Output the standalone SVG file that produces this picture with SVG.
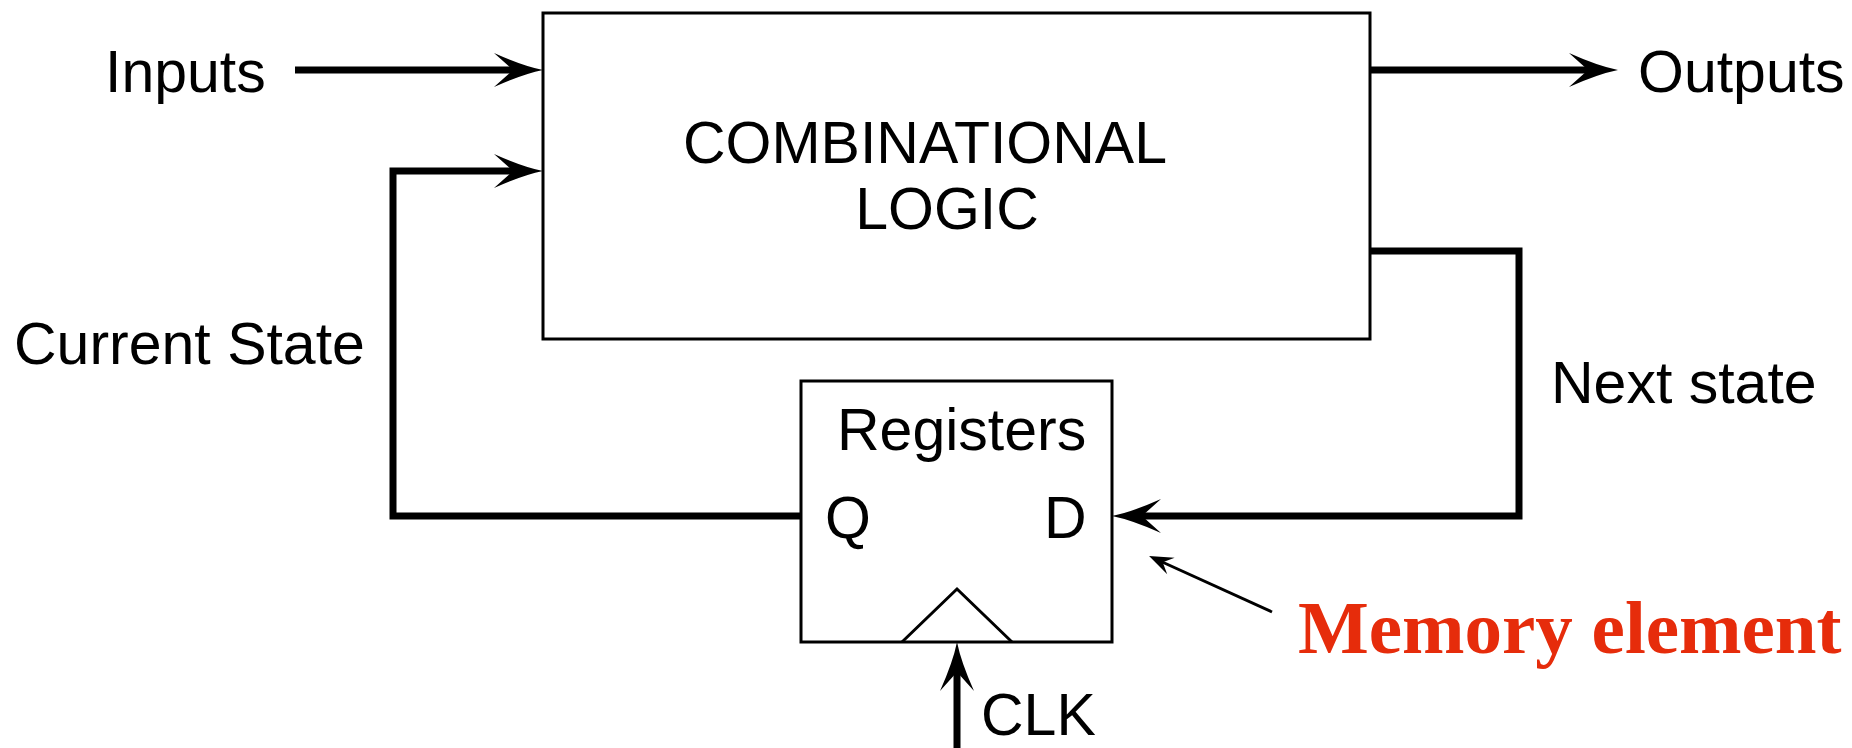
<svg xmlns="http://www.w3.org/2000/svg" width="1852" height="748" viewBox="0 0 1852 748">
  <style>
    .box { fill: #ffffff; stroke: #000000; stroke-width: 3; }
    .wire { fill: none; stroke: #000000; stroke-width: 7; stroke-linejoin: miter; }
    .thin { fill: none; stroke: #000000; stroke-width: 3; }
    .lbl { font-family: "Liberation Sans", Arial, sans-serif; font-size: 59px; fill: #000000; }
    .note { font-family: "Liberation Serif", "Times New Roman", serif; font-size: 75px; font-weight: bold; fill: #e62c0b; }
  </style>
  <defs>
    <marker id="arrow" viewBox="-50 -20 52 40" markerWidth="52" markerHeight="40" refX="-28" refY="0" orient="auto" markerUnits="userSpaceOnUse" overflow="visible">
      <path d="M0,0 Q-20,-4 -49,-17 L-30,0 L-49,17 Q-20,4 0,0 Z" fill="#000000"/>
    </marker>
    <marker id="arrowSmall" viewBox="-26 -12 28 24" markerWidth="28" markerHeight="24" refX="-12" refY="0" orient="auto" markerUnits="userSpaceOnUse" overflow="visible">
      <path d="M0,0 L-24,-9 L-15,0 L-24,9 Z" fill="#000000"/>
    </marker>
  </defs>
  <rect width="1852" height="748" fill="#ffffff"/>

  <g id="connectors">
    <line id="inputs-wire" class="wire" x1="295" y1="70" x2="515" y2="70" marker-end="url(#arrow)"/>
    <line id="outputs-wire" class="wire" x1="1370" y1="70" x2="1590" y2="70" marker-end="url(#arrow)"/>
    <polyline id="current-state-wire" class="wire" points="801,516 393,516 393,171 515,171" marker-end="url(#arrow)"/>
    <polyline id="next-state-wire" class="wire" points="1370,251 1519,251 1519,516 1140,516" marker-end="url(#arrow)"/>
    <line id="clk-wire" class="wire" x1="957" y1="748" x2="957" y2="670" marker-end="url(#arrow)"/>
    <line id="memory-pointer" class="thin" x1="1272" y1="612" x2="1160" y2="561" marker-end="url(#arrowSmall)"/>
  </g>

  <g id="combinational-logic">
    <rect class="box" x="543" y="13" width="827" height="326"/>
    <text class="lbl" x="925" y="163" text-anchor="middle" font-size="58">COMBINATIONAL</text>
    <text class="lbl" x="947" y="229" text-anchor="middle" font-size="58">LOGIC</text>
  </g>

  <g id="registers">
    <rect class="box" x="801" y="381" width="311" height="261"/>
    <text class="lbl" x="837" y="450">Registers</text>
    <text class="lbl" x="825" y="538">Q</text>
    <text class="lbl" x="1044" y="538">D</text>
    <polyline class="thin" points="902,642 957,589 1012,642"/>
  </g>

  <g id="label-inputs"><text class="lbl" x="105" y="92">Inputs</text></g>
  <g id="label-outputs"><text class="lbl" x="1638" y="92">Outputs</text></g>
  <g id="label-current-state"><text class="lbl" x="14" y="364">Current State</text></g>
  <g id="label-next-state"><text class="lbl" x="1551" y="403">Next state</text></g>
  <g id="label-clk"><text class="lbl" x="981" y="735">CLK</text></g>
  <g id="label-memory-element"><text class="note" x="1298" y="653">Memory element</text></g>
</svg>
